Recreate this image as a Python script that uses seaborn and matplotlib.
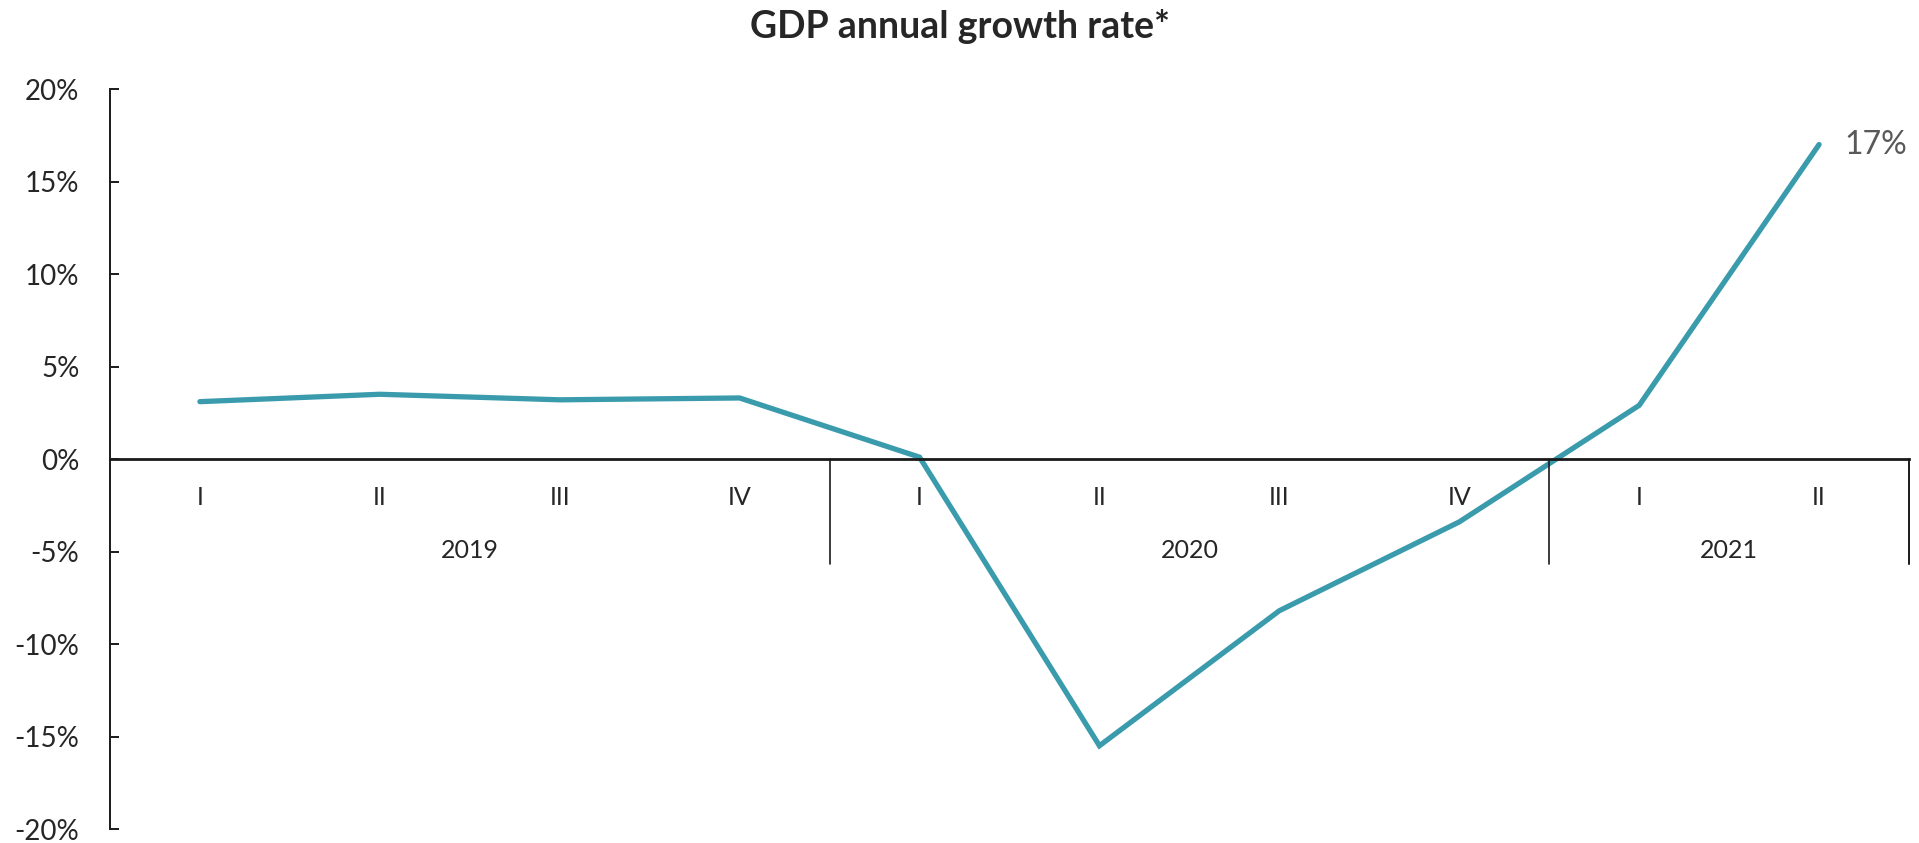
import matplotlib
matplotlib.use("Agg")
import matplotlib.pyplot as plt
import seaborn as sns
import pandas as pd

# Quarterly GDP growth, year over year (%)
years = ["2019", "2020", "2021"]
quarters = ["I", "II", "III", "IV", "I", "II", "III", "IV", "I", "II"]
quarter_year = ["2019", "2019", "2019", "2019", "2020", "2020", "2020", "2020", "2021", "2021"]
growth = [3.1, 3.5, 3.2, 3.3, 0.1, -15.5, -8.2, -3.4, 2.9, 17.0]
y_ticks = [-20, -15, -10, -5, 0, 5, 10, 15, 20]

sns.set_theme(style="white")
plt.rcParams["font.family"] = ["Lato", "DejaVu Sans"]

df = pd.DataFrame({"pos": range(len(growth)), "growth": growth,
                   "quarter": quarters, "year": quarter_year})

fig = plt.figure(figsize=(19.19, 8.43), dpi=100)
ax = fig.add_axes([0.0573, 0.0166, 0.9375, 0.8778])

line_color = "#3a9bad"
sns.lineplot(data=df, x="pos", y="growth", ax=ax, color=line_color,
             linewidth=3.8, solid_capstyle="round", solid_joinstyle="miter")

ax.set_xlim(-0.5, len(growth) - 0.5)
ax.set_ylim(-20, 20)
ax.set_yticks(y_ticks)
ax.set_yticklabels([f"{v}%" for v in y_ticks])
ax.set_xticks([])
ax.set_xlabel("")
ax.set_ylabel("")

for side in ["top", "right"]:
    ax.spines[side].set_visible(False)
ax.spines["left"].set_color("#1a1a1a")
ax.spines["left"].set_linewidth(1.4)
ax.spines["bottom"].set_position(("data", 0))
ax.spines["bottom"].set_color("#1a1a1a")
ax.spines["bottom"].set_linewidth(2.0)

ax.tick_params(axis="y", direction="in", length=6.5, width=1.4, color="#1a1a1a",
               labelsize=20, labelcolor="#262626", pad=22, left=True)

# Quarter labels and year group labels under the zero line
for i, q in enumerate(quarters):
    ax.text(i, -2.1, q, ha="center", va="center", fontsize=18, color="#262626")

starts = []
for i, y in enumerate(quarter_year):
    if i == 0 or quarter_year[i - 1] != y:
        starts.append(i)
ends = starts[1:] + [len(quarter_year)]
for yr, s, e in zip(years, starts, ends):
    ax.text((s + e - 1) / 2, -4.95, yr, ha="center", va="center",
            fontsize=18, color="#262626")
    if e - 0.5 < len(quarter_year):
        ax.plot([e - 0.5, e - 0.5], [0, -5.7], color="#1a1a1a", lw=1.2,
                clip_on=False)
ax.plot([len(quarter_year) - 0.5] * 2, [0, -5.7], color="#1a1a1a", lw=1.2,
        clip_on=False)

# Label the latest value
last = len(growth) - 1
ax.annotate(f"{growth[last]:.0f}%", xy=(last, growth[last]), xytext=(18, 0),
            textcoords="offset points", ha="left", va="center",
            fontsize=23, color="#595959", annotation_clip=False)

fig.text(0.5, 0.968, "GDP annual growth rate*", ha="center", va="center",
         fontsize=27, fontweight="bold", color="#262626")

fig.savefig("out.png", dpi=100)
